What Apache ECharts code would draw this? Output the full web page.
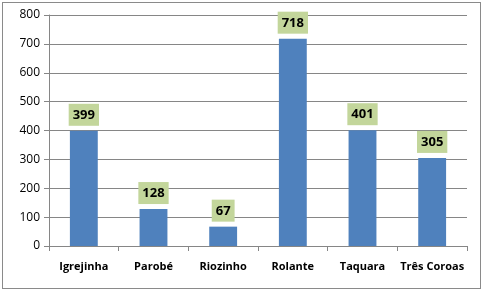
<!DOCTYPE html>
<html><head><meta charset="utf-8">
<script src="https://cdn.jsdelivr.net/npm/echarts@6/dist/echarts.min.js"></script>
<style>html,body{margin:0;padding:0;background:#fff}#c{width:483px;height:291px}
#frame{position:absolute;left:2px;top:2px;width:479px;height:287px;border:1px solid #8a8a8a;box-sizing:border-box;pointer-events:none}</style>
</head><body><div id="c"></div><div id="frame"></div>
<script>
const categories = ['Igrejinha', 'Parobé', 'Riozinho', 'Rolante', 'Taquara', 'Três Coroas'];
const values = [399, 128, 67, 718, 401, 305];
const yTicks = { min: 0, max: 800, interval: 100 };

const chart = echarts.init(document.getElementById('c'), null, { renderer: 'canvas' });
chart.setOption({
  animation: false,
  grid: { left: 49, right: 16, top: 15, bottom: 45, containLabel: false },
  xAxis: {
    type: 'category', data: categories,
    axisLine: { show: true, lineStyle: { color: '#868686', width: 1 } },
    axisTick: { show: true, length: 5, lineStyle: { color: '#868686' } },
    axisLabel: { interval: 0, color: '#000', fontWeight: 'bold', fontSize: 11, fontFamily: 'Open Sans', margin: 15 }
  },
  yAxis: {
    type: 'value', min: yTicks.min, max: yTicks.max, interval: yTicks.interval,
    axisLine: { show: true, lineStyle: { color: '#868686', width: 1 } },
    axisTick: { show: true, length: 5, inside: false, lineStyle: { color: '#868686' } },
    splitLine: { show: true, lineStyle: { color: '#868686', width: 1 } },
    axisLabel: { color: '#000', fontSize: 12, fontFamily: 'Open Sans', margin: 9 }
  },
  series: [{
    type: 'bar', data: values, barWidth: '40%',
    itemStyle: { color: '#4f81bd' },
    label: {
      show: true, position: 'top', distance: 5,
      color: '#000', fontWeight: 'bold', fontSize: 13, fontFamily: 'Open Sans',
      backgroundColor: '#c3d69b', padding: [5, 4, 4, 4]
    }
  }]
});
</script></body></html>
